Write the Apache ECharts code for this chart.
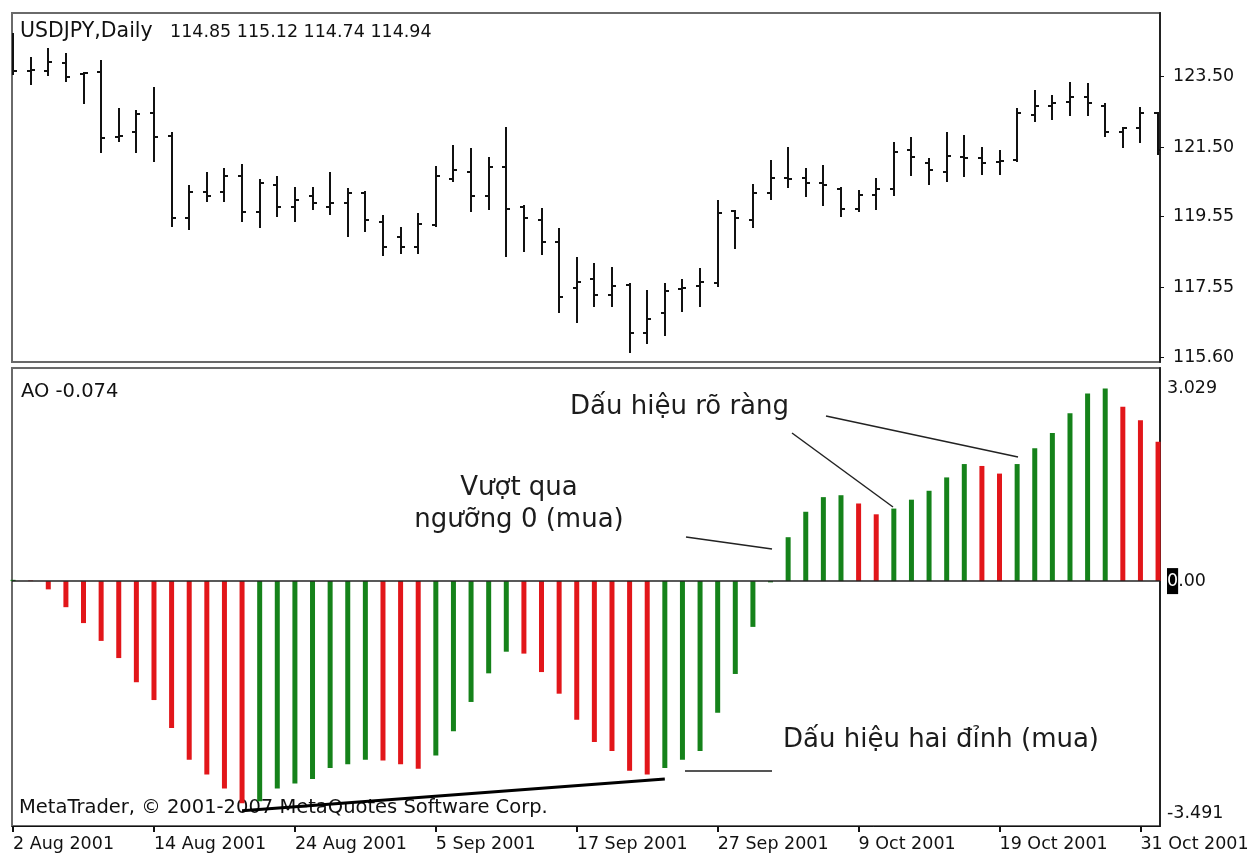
<!DOCTYPE html>
<html>
<head>
<meta charset="utf-8">
<script src="https://cdn.jsdelivr.net/npm/echarts@6/dist/echarts.min.js"></script>
<style>
  html, body { margin: 0; padding: 0; background: #fff; }
  #chart { width: 1248px; height: 857px; }
</style>
</head>
<body>
<div id="chart"></div>
<script>
// Trading days shown on the chart (one bar per day)
const days = [
  '2 Aug 2001','3 Aug 2001','6 Aug 2001','7 Aug 2001','8 Aug 2001','9 Aug 2001','10 Aug 2001','13 Aug 2001','14 Aug 2001','15 Aug 2001',
  '16 Aug 2001','17 Aug 2001','20 Aug 2001','21 Aug 2001','22 Aug 2001','23 Aug 2001','24 Aug 2001','27 Aug 2001','28 Aug 2001','29 Aug 2001',
  '30 Aug 2001','31 Aug 2001','3 Sep 2001','4 Sep 2001','5 Sep 2001','6 Sep 2001','7 Sep 2001','10 Sep 2001','11 Sep 2001','12 Sep 2001',
  '13 Sep 2001','14 Sep 2001','17 Sep 2001','18 Sep 2001','19 Sep 2001','20 Sep 2001','21 Sep 2001','24 Sep 2001','25 Sep 2001','26 Sep 2001',
  '27 Sep 2001','28 Sep 2001','1 Oct 2001','2 Oct 2001','3 Oct 2001','4 Oct 2001','5 Oct 2001','8 Oct 2001','9 Oct 2001','10 Oct 2001',
  '11 Oct 2001','12 Oct 2001','15 Oct 2001','16 Oct 2001','17 Oct 2001','18 Oct 2001','19 Oct 2001','22 Oct 2001','23 Oct 2001','24 Oct 2001',
  '25 Oct 2001','26 Oct 2001','29 Oct 2001','30 Oct 2001','31 Oct 2001','1 Nov 2001'
];

// USDJPY daily prices
const open = [
  124.51,123.64,123.64,123.87,123.56,123.61,121.79,121.93,122.46,121.81,
  119.51,120.24,120.24,120.69,119.68,120.44,119.82,120.13,119.82,119.93,
  120.21,119.40,118.97,118.69,119.31,120.60,120.80,120.13,120.94,119.82,
  119.45,118.83,117.54,117.79,117.34,117.62,116.28,116.84,117.51,117.60,
  117.68,119.71,119.45,120.21,120.63,120.63,120.49,120.32,119.76,120.16,
  120.32,121.42,121.05,120.80,121.22,121.20,121.08,121.14,122.40,122.66,
  122.77,122.91,122.66,121.93,122.04,122.46
];
const high = [
  124.71,124.04,124.29,124.15,123.61,123.95,122.60,122.53,123.19,121.93,
  120.44,120.80,120.91,121.03,120.60,120.69,120.38,120.38,120.80,120.35,
  120.27,119.59,119.26,119.65,120.97,121.56,121.48,121.22,122.07,119.87,
  119.79,119.23,118.41,118.24,118.13,117.68,117.48,117.68,117.79,118.10,
  120.01,119.73,120.47,121.14,121.51,120.91,121.00,120.38,120.30,120.63,
  121.63,121.79,121.20,121.93,121.84,121.51,121.42,122.60,123.11,122.97,
  123.33,123.30,122.74,122.07,122.63,122.49
];
const low = [
  123.53,123.25,123.50,123.33,122.71,121.34,121.63,121.34,121.08,119.26,
  119.17,119.96,119.96,119.40,119.23,119.54,119.40,119.73,119.59,118.97,
  119.11,118.44,118.50,118.50,119.26,120.52,119.68,119.73,118.41,118.55,
  118.47,116.84,116.56,117.01,117.01,115.71,115.97,116.19,116.87,117.01,
  117.57,118.64,119.23,120.01,120.35,120.10,119.85,119.54,119.68,119.73,
  120.13,120.69,120.44,120.52,120.66,120.72,120.72,121.08,122.21,122.26,
  122.38,122.38,121.79,121.48,121.62,121.28
];
const close = [
  123.64,123.67,123.89,123.47,123.59,121.76,121.81,122.43,121.79,119.51,
  120.24,120.13,120.69,119.68,120.49,119.82,120.01,119.93,119.93,120.21,
  119.45,118.69,118.69,119.34,120.69,120.86,120.13,120.94,119.76,119.51,
  118.83,117.29,117.71,117.34,117.60,116.28,116.67,117.46,117.54,117.71,
  119.65,119.51,120.21,120.63,120.61,120.49,120.44,119.76,120.16,120.32,
  121.36,121.22,120.86,121.25,121.20,121.05,121.10,122.46,122.66,122.74,
  122.91,122.74,121.93,122.04,122.46,121.42
];

// Awesome Oscillator values
const ao = [
  0.02, 0.01, -0.13, -0.41, -0.66, -0.94, -1.21, -1.59, -1.87, -2.31,
  -2.81, -3.04, -3.26, -3.491, -3.46, -3.26, -3.18, -3.11, -2.94, -2.88,
  -2.81, -2.82, -2.88, -2.95, -2.74, -2.36, -1.90, -1.45, -1.11, -1.14,
  -1.43, -1.77, -2.18, -2.53, -2.67, -2.98, -3.04, -2.94, -2.81, -2.67,
  -2.07, -1.46, -0.72, -0.02, 0.69, 1.09, 1.32, 1.35, 1.22, 1.05,
  1.14, 1.28, 1.42, 1.63, 1.84, 1.81, 1.69, 1.84, 2.09, 2.33,
  2.64, 2.95, 3.029, 2.74, 2.53, 2.19
];

// Axis tick labels
const dateTicks = ['2 Aug 2001','14 Aug 2001','24 Aug 2001','5 Sep 2001','17 Sep 2001','27 Sep 2001','9 Oct 2001','19 Oct 2001','31 Oct 2001'];
const priceTicks = [115.60, 117.55, 119.55, 121.50, 123.50];
const aoTicks = [-3.491, 0, 3.029];

// Line joining the two AO troughs (bar index, AO value)
const troughLine = [[13, -3.61], [37, -3.11]];

const FONT = '"DejaVu Sans", Tahoma, Verdana, sans-serif';
const UP = '#15821a';
const DOWN = '#e2161a';
const INK = '#111';
const NOTE = '#1c1c1c';

const tickIdx = dateTicks.map(d => days.indexOf(d));

const ohlcData = days.map((d, i) => [i, open[i], high[i], low[i], close[i]]);
const aoData = ao.map((v, i) => ({
  value: [i, v],
  itemStyle: { color: (i > 0 && v < ao[i - 1]) ? DOWN : UP }
}));

// MetaTrader-style bar: high-low stem, open tick left, close tick right
function renderBar(params, api) {
  const i = api.value(0);
  const o = api.coord([i, api.value(1)]);
  const h = api.coord([i, api.value(2)]);
  const l = api.coord([i, api.value(3)]);
  const c = api.coord([i, api.value(4)]);
  const x = Math.round(h[0]);
  const st = { stroke: INK, lineWidth: 2 };
  return {
    type: 'group',
    children: [
      { type: 'line', shape: { x1: x, y1: Math.round(h[1]), x2: x, y2: Math.round(l[1]) }, style: st },
      { type: 'line', shape: { x1: x - 4, y1: Math.round(o[1]), x2: x, y2: Math.round(o[1]) }, style: st },
      { type: 'line', shape: { x1: x, y1: Math.round(c[1]), x2: x + 4, y2: Math.round(c[1]) }, style: st }
    ]
  };
}

function note(text, x, y, size, align) {
  return { type: 'text', z: 50, x: x, y: y,
    style: { text: text, font: size + 'px ' + FONT, fill: NOTE,
      align: align || 'left', textAlign: align || 'left', verticalAlign: 'middle', textVerticalAlign: 'middle' } };
}
function pointer(x1, y1, x2, y2, color, width) {
  return { type: 'line', z: 50, shape: { x1: x1, y1: y1, x2: x2, y2: y2 }, style: { stroke: color, lineWidth: width } };
}

const chart = echarts.init(document.getElementById('chart'), null, { renderer: 'canvas' });

const xRange = { min: -0.06, max: 65.11 };

chart.setOption({
  animation: false,
  backgroundColor: '#fff',
  textStyle: { fontFamily: FONT },
  grid: [
    { left: 12, top: 13, width: 1148, height: 349, show: true, borderColor: '#6a6a6a', borderWidth: 2, outerBoundsMode: 'none', containLabel: false },
    { left: 12, top: 368, width: 1148, height: 458, show: true, borderColor: '#6a6a6a', borderWidth: 2, outerBoundsMode: 'none', containLabel: false }
  ],
  xAxis: [
    { gridIndex: 0, type: 'value', min: xRange.min, max: xRange.max,
      axisLine: { show: false, onZero: false }, axisTick: { show: false }, axisLabel: { show: false }, splitLine: { show: false } },
    { gridIndex: 1, type: 'value', min: xRange.min, max: xRange.max,
      splitLine: { show: false },
      axisLine: { show: true, onZero: false, lineStyle: { color: INK, width: 1 } },
      axisTick: { show: true, customValues: tickIdx, length: 6, lineStyle: { color: INK, width: 2 } },
      axisLabel: { customValues: tickIdx, formatter: v => days[v], align: 'left', margin: 9,
        fontSize: 17.5, color: INK, fontFamily: FONT, hideOverlap: false } }
  ],
  yAxis: [
    { gridIndex: 0, type: 'value', position: 'right', min: 115.46, max: 125.27,
      splitLine: { show: false },
      axisLine: { show: true, onZero: false, lineStyle: { color: '#222', width: 2 } },
      axisTick: { show: true, inside: false, customValues: priceTicks, length: 4, lineStyle: { color: INK, width: 1 } },
      axisLabel: { customValues: priceTicks, formatter: v => v.toFixed(2), margin: 13,
        fontSize: 17.5, color: INK, fontFamily: FONT } },
    { gridIndex: 1, type: 'value', position: 'right', min: -3.85, max: 3.35,
      splitLine: { show: false },
      axisLine: { show: true, onZero: false, lineStyle: { color: '#222', width: 2 } },
      axisTick: { show: false },
      axisLabel: { customValues: aoTicks, margin: 7, fontFamily: FONT,
        formatter: v => v === 0 ? '{hl|0}{n|.00}' : (v < 0 ? '{lo|' + v.toFixed(3) + '}' : '{n|' + v.toFixed(3) + '}'),
        rich: {
          n: { fontSize: 17.5, color: INK, fontFamily: FONT },
          hl: { fontSize: 17.5, color: '#fff', backgroundColor: '#000', padding: [4, 0, 4, 0], fontFamily: FONT },
          lo: { fontSize: 17.5, color: INK, padding: [20, 0, 0, 0], fontFamily: FONT }
        } } }
  ],
  series: [
    {
      name: 'USDJPY', type: 'custom', xAxisIndex: 0, yAxisIndex: 0,
      renderItem: renderBar, clip: true,
      encode: { x: 0, y: [1, 2, 3, 4] },
      data: ohlcData
    },
    {
      name: 'AO', type: 'bar', xAxisIndex: 1, yAxisIndex: 1,
      barWidth: 5, data: aoData,
      markLine: {
        silent: true, symbol: ['none', 'none'], label: { show: false }, animation: false,
        data: [
          { yAxis: 0, lineStyle: { color: '#222', width: 1.5, type: 'solid' } },
          [ { coord: troughLine[0], lineStyle: { color: '#000', width: 3, type: 'solid' } },
            { coord: troughLine[1] } ]
        ]
      }
    }
  ],
  graphic: [
    { type: 'text', z: 50, x: 20, y: 32, style: { text: 'USDJPY,Daily', font: '20.5px ' + FONT, fill: INK, verticalAlign: 'middle', textVerticalAlign: 'middle' } },
    { type: 'text', z: 50, x: 170, y: 32, style: { text: '114.85 115.12 114.74 114.94', font: '17.5px ' + FONT, fill: INK, verticalAlign: 'middle', textVerticalAlign: 'middle' } },
    { type: 'text', z: 50, x: 21, y: 392, style: { text: 'AO -0.074', font: '19.5px ' + FONT, fill: INK, verticalAlign: 'middle', textVerticalAlign: 'middle' } },
    { type: 'text', z: 0, x: 19, y: 808, style: { text: 'MetaTrader, © 2001-2007 MetaQuotes Software Corp.', font: '19.5px ' + FONT, fill: INK, verticalAlign: 'middle', textVerticalAlign: 'middle' } },

    note('Dấu hiệu rõ ràng', 570, 407, 26),
    note('Vượt qua', 519, 488, 26, 'center'),
    note('ngưỡng 0 (mua)', 519, 520, 26, 'center'),
    note('Dấu hiệu hai đỉnh (mua)', 783, 740, 26),

    pointer(686, 537, 772, 549, '#222', 1.5),
    pointer(792, 433, 893, 507, '#222', 1.5),
    pointer(826, 416, 1018, 457, '#222', 1.5),
    pointer(685, 771, 772, 771, '#555', 2)
  ]
});
</script>
</body>
</html>
